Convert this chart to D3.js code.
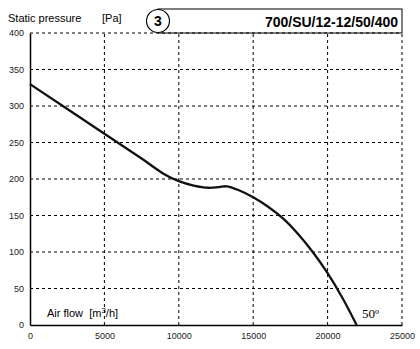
<!DOCTYPE html>
<html>
<head>
<meta charset="utf-8">
<script src="https://cdn.jsdelivr.net/npm/d3@7"></script>
<style>
  body { margin: 0; background: #fff; }
  svg { font-family: "Liberation Sans", Arial, sans-serif; }
</style>
</head>
<body>
<svg id="chart" width="420" height="349"></svg>
<script>
// Curve: air flow (m3/h) vs static pressure (Pa)
const flow = [0, 5000, 7500, 9000, 10000, 11000, 12000, 12700, 13200, 14000, 15000, 16000, 17000, 18000, 19000, 20000, 21000, 21950];
const pressure = [330, 262, 228, 207, 197, 191, 188, 189, 190, 185, 175, 162, 146, 125, 100, 71, 37, 0];
const xTicks = [0, 5000, 10000, 15000, 20000, 25000];
const yTicks = [0, 50, 100, 150, 200, 250, 300, 350, 400];
const title = "700/SU/12-12/50/400";
const curveNo = "3";
const angle = "50º";

const svg = d3.select("#chart"),
      margin = { top: 33, right: 18, bottom: 24, left: 30 },
      width = +svg.attr("width"),
      height = +svg.attr("height");

const x = d3.scaleLinear().domain([0, 25000]).range([margin.left, width - margin.right]);
const y = d3.scaleLinear().domain([0, 400]).range([height - margin.bottom, margin.top]);

// dashed grid
svg.append("g")
  .selectAll("line")
  .data(xTicks.slice(1))
  .enter().append("line")
  .attr("x1", d => x(d)).attr("x2", d => x(d))
  .attr("y1", y(0)).attr("y2", y(400))
  .attr("stroke", "#000").attr("stroke-width", 1).attr("stroke-dasharray", "3,3");

svg.append("g")
  .selectAll("line")
  .data(yTicks.slice(1))
  .enter().append("line")
  .attr("x1", x(0)).attr("x2", x(25000))
  .attr("y1", d => y(d)).attr("y2", d => y(d))
  .attr("stroke", "#000").attr("stroke-width", 1).attr("stroke-dasharray", "3,3");

// axes
svg.append("g")
  .attr("transform", `translate(0,${y(0)})`)
  .call(d3.axisBottom(x).tickValues(xTicks).tickSize(0).tickPadding(8).tickFormat(d3.format("d")))
  .call(g => g.select(".domain").attr("stroke-width", 1.5))
  .selectAll("text").attr("font-size", 9).attr("fill", "#222")
  .attr("font-family", "Liberation Sans, Arial, sans-serif");

svg.append("g")
  .attr("transform", `translate(${x(0)},0)`)
  .call(d3.axisLeft(y).tickValues(yTicks).tickSize(0).tickPadding(6))
  .call(g => g.select(".domain").attr("stroke-width", 1.5))
  .selectAll("text").attr("font-size", 9).attr("fill", "#222")
  .attr("font-family", "Liberation Sans, Arial, sans-serif");

// title box and circle
const cx = 158, cy = 21, r = 11.5;
svg.append("rect")
  .attr("x", cx).attr("y", 9)
  .attr("width", x(25000) - cx).attr("height", y(400) - 9)
  .attr("fill", "none").attr("stroke", "#000").attr("stroke-width", 1);
svg.append("circle")
  .attr("cx", cx).attr("cy", cy).attr("r", r)
  .attr("fill", "#fff").attr("stroke", "#000").attr("stroke-width", 1.2);
svg.append("text")
  .attr("x", cx).attr("y", cy + 5)
  .attr("text-anchor", "middle")
  .attr("font-size", 14).attr("font-weight", "bold")
  .text(curveNo);
svg.append("text")
  .attr("x", x(25000) - 4).attr("y", 27)
  .attr("text-anchor", "end")
  .attr("font-size", 14).attr("font-weight", "bold")
  .text(title);

svg.append("text")
  .attr("x", 8).attr("y", 22)
  .attr("font-size", 11)
  .text("Static pressure");
svg.append("text")
  .attr("x", 102).attr("y", 22)
  .attr("font-size", 11)
  .text("[Pa]");

const af = svg.append("text")
  .attr("x", 47).attr("y", 317)
  .attr("font-size", 11)
  .style("white-space", "pre");
af.append("tspan").text("Air flow  [m");
af.append("tspan").attr("dy", -4).attr("font-size", 8).text("3");
af.append("tspan").attr("dy", 4).text("/h]");

svg.append("text")
  .attr("x", 362).attr("y", 318)
  .attr("font-size", 13)
  .attr("font-family", "Liberation Serif, serif")
  .text(angle);

// curve
const pts = flow.map((f, i) => [f, pressure[i]]);
svg.append("path")
  .datum(pts)
  .attr("fill", "none")
  .attr("stroke", "#111")
  .attr("stroke-width", 2.3)
  .attr("d", d3.line().x(d => x(d[0])).y(d => y(d[1])).curve(d3.curveCatmullRom.alpha(0.5)));
</script>
</body>
</html>
